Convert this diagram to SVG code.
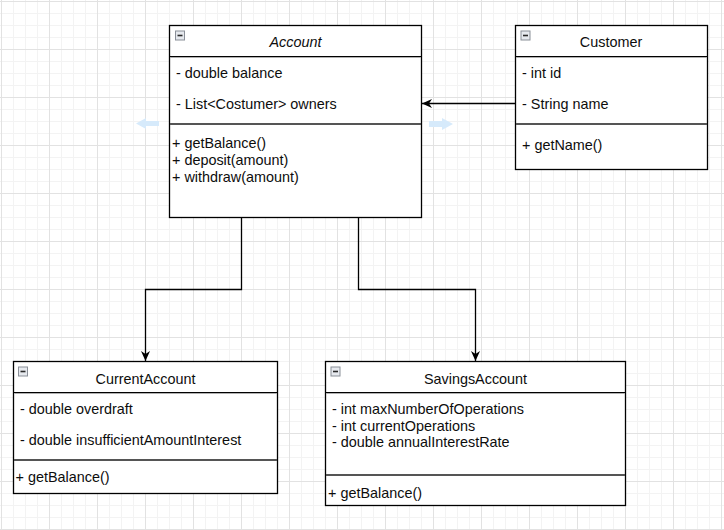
<svg xmlns="http://www.w3.org/2000/svg" width="724" height="530" viewBox="0 0 724 530">
  <defs>
    <pattern id="grid" x="1" y="1" width="48" height="48" patternUnits="userSpaceOnUse">
      <path d="M12.5 0V48M24.5 0V48M36.5 0V48M0 12.5H48M0 24.5H48M0 36.5H48" stroke="#f3f3f3" stroke-width="1" fill="none"/>
      <path d="M0.5 0V48M0 0.5H48" stroke="#e2e2e2" stroke-width="1" fill="none"/>
    </pattern>
    <marker id="arrow" viewBox="0 0 10 10" refX="10" refY="5" markerWidth="10" markerHeight="10" markerUnits="userSpaceOnUse" orient="auto">
      <path d="M0,0.5 L10,5 L0,9.5 L3,5 Z" fill="#000"/>
    </marker>
    <g id="collapse">
      <rect x="0.5" y="0.5" width="9" height="9" fill="#e6e9ee" stroke="#8a8f98" stroke-width="1"/>
      <path d="M2.5 5H7.5" stroke="#2a2a2a" stroke-width="1.6"/>
    </g>
  </defs>
  <style>
    .box { fill: #ffffff; stroke: #000000; stroke-width: 1.3; }
    .head { stroke: #000000; stroke-width: 1; }
    .head2 { stroke: #b0b0b0; stroke-width: 1; }
    .sep { stroke: #555555; stroke-width: 2; }
    text { font-family: "Liberation Sans", Arial, sans-serif; font-size: 14.4px; fill: #0d0d0d; }
    .title { text-anchor: middle; }
    .italic { font-style: italic; }
    .edge { fill: none; stroke: #000000; stroke-width: 1.3; }
    .hint { fill: #d6eafb; }
  </style>

  <rect x="0" y="0" width="724" height="530" fill="#ffffff"/>
  <rect x="0" y="0" width="724" height="530" fill="url(#grid)"/>

  <!-- hover hint arrows beside Account -->
  <g id="hints">
    <path class="hint" d="M136,123.5 L146,118 L146,121 L159,121 L159,126 L146,126 L146,129 Z"/>
    <path class="hint" d="M453,124 L442,118 L442,121 L429,121 L429,127 L442,127 L442,130 Z"/>
  </g>

  <!-- Account -->
  <g id="account">
    <rect class="box" x="169.5" y="25.5" width="252" height="192"/>
    <line class="head" x1="169.5" y1="56.5" x2="421.5" y2="56.5"/>
    <line class="head2" x1="170" y1="57.5" x2="421" y2="57.5"/>
    <line class="sep" x1="170" y1="124" x2="421" y2="124"/>
    <use href="#collapse" x="175" y="30.5"/>
    <text class="title italic" x="295.5" y="47">Account</text>
    <text x="176" y="78">- double balance</text>
    <text x="176" y="109">- List&lt;Costumer&gt; owners</text>
    <text x="172" y="147.5">+ getBalance()</text>
    <text x="172" y="164.5">+ deposit(amount)</text>
    <text x="172" y="181.5">+ withdraw(amount)</text>
  </g>

  <!-- Customer -->
  <g id="customer">
    <rect class="box" x="515.5" y="25.5" width="192" height="144"/>
    <line class="head" x1="515.5" y1="56.5" x2="707.5" y2="56.5"/>
    <line class="head2" x1="516" y1="57.5" x2="707" y2="57.5"/>
    <line class="sep" x1="516" y1="124" x2="707" y2="124"/>
    <use href="#collapse" x="520.5" y="30.5"/>
    <text class="title" x="611" y="47">Customer</text>
    <text x="522" y="78">- int id</text>
    <text x="522" y="109">- String name</text>
    <text x="522" y="150">+ getName()</text>
  </g>

  <!-- CurrentAccount -->
  <g id="current-account">
    <rect class="box" x="13.5" y="361.5" width="264" height="132"/>
    <line class="head" x1="13.5" y1="392.5" x2="277.5" y2="392.5"/>
    <line class="head2" x1="14" y1="393.5" x2="277" y2="393.5"/>
    <line class="sep" x1="14" y1="460" x2="277" y2="460"/>
    <use href="#collapse" x="18" y="366.5"/>
    <text class="title" x="145.5" y="383.5">CurrentAccount</text>
    <text x="20" y="414">- double overdraft</text>
    <text x="20" y="445">- double insufficientAmountInterest</text>
    <text x="15.5" y="481.5">+ getBalance()</text>
  </g>

  <!-- SavingsAccount -->
  <g id="savings-account">
    <rect class="box" x="325.5" y="361.5" width="300" height="144"/>
    <line class="head" x1="325.5" y1="392.5" x2="625.5" y2="392.5"/>
    <line class="head2" x1="326" y1="393.5" x2="625" y2="393.5"/>
    <line class="sep" x1="326" y1="475" x2="625" y2="475"/>
    <use href="#collapse" x="330.5" y="366.5"/>
    <text class="title" x="475.5" y="383.5">SavingsAccount</text>
    <text x="332" y="414">- int maxNumberOfOperations</text>
    <text x="332" y="430.5">- int currentOperations</text>
    <text x="332" y="447">- double annualInterestRate</text>
    <text x="328" y="497.5">+ getBalance()</text>
  </g>

  <!-- connectors -->
  <g id="edges">
    <path class="edge" d="M515.5,103.5 H422" marker-end="url(#arrow)"/>
    <path class="edge" d="M241.5,217.5 V289.5 H145.5 V361" marker-end="url(#arrow)"/>
    <path class="edge" d="M358.5,217.5 V289.5 H475.5 V361" marker-end="url(#arrow)"/>
  </g>
</svg>
